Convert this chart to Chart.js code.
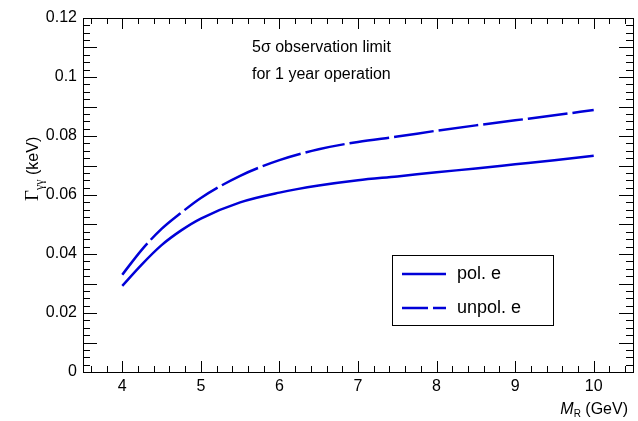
<!DOCTYPE html><html><head><script src="https://cdn.jsdelivr.net/npm/chart.js"></script>
<style>body{margin:0;background:#fff}#w{width:638px;height:421px}</style></head><body><div id="w"><canvas id="c"></canvas></div>
<script>
const massX=[4,4.25,4.5,4.75,5,5.5,6,6.5,7,7.5,8,8.5,9,9.5,10];
const polE=[0.0292,0.0365,0.0430,0.0480,0.0520,0.0575,0.0608,0.0632,0.0650,0.0663,0.0677,0.0690,0.0704,0.0718,0.0733];
const unpolE=[0.0330,0.0415,0.0485,0.0540,0.0590,0.0665,0.0718,0.0755,0.0780,0.0798,0.0818,0.0836,0.0853,0.0870,0.0888];
const xTicks=[4,5,6,7,8,9,10];
const yTicks=[0,0.02,0.04,0.06,0.08,0.1,0.12];
const yLabels=['0','0.02','0.04','0.06','0.08','0.1','0.12'];
const blue='#0000d8';
const deco={id:'deco',afterDraw(ch){const c=ch.ctx,a=ch.chartArea,xs=ch.scales.x,ys=ch.scales.y;
c.save();c.strokeStyle='#000';c.lineWidth=1;c.strokeRect(a.left+.5,a.top+.5,a.right-a.left,a.bottom-a.top);
c.fillStyle='#000';c.font='16px "Liberation Sans",Arial';c.textAlign='center';c.textBaseline='top';
for(let v=3.6;v<10.5;v+=0.2){const p=Math.round(xs.getPixelForValue(v))+.5;const maj=Math.abs(v-Math.round(v))<1e-6;const L=maj?11:6;
c.beginPath();c.moveTo(p,a.bottom);c.lineTo(p,a.bottom-L);c.moveTo(p,a.top);c.lineTo(p,a.top+L);c.stroke();}
xTicks.forEach(v=>c.fillText(String(v),xs.getPixelForValue(v),a.bottom+7));
c.textAlign='right';c.textBaseline='middle';
for(let i=0;i<=48;i++){const v=i*0.0025;const p=Math.round(ys.getPixelForValue(v))+.5;const L=i%4==0?14:7;
c.beginPath();c.moveTo(a.left,p);c.lineTo(a.left+L,p);c.moveTo(a.right,p);c.lineTo(a.right-L,p);c.stroke();}
yTicks.forEach((v,i)=>c.fillText(yLabels[i],a.left-6,ys.getPixelForValue(v)));
c.textAlign='right';c.textBaseline='alphabetic';c.font='16px "Liberation Sans",Arial';
c.fillText('(GeV)',a.right-5,a.bottom+42);const w=c.measureText(' (GeV)').width;
c.font='10px "Liberation Sans",Arial';c.fillText('R',a.right-5-w,a.bottom+45);const w2=c.measureText('R').width;
c.font='italic 16px "Liberation Sans",Arial';c.fillText('M',a.right-5-w-w2,a.bottom+42);
c.translate(38,a.top+5);c.rotate(-Math.PI/2);c.textAlign='left';c.font='19px "Liberation Serif",serif';
let x=-178;c.fillText('Γ',x,0);x+=c.measureText('Γ').width;c.font='12px "Liberation Serif",serif';c.fillText('γγ',x,5);x+=c.measureText('γγ').width;
c.font='16px "Liberation Sans",Arial';c.fillText(' (keV)',x,0);c.restore();
c.save();c.font='16px "Liberation Sans",Arial';c.fillStyle='#000';c.textAlign='left';c.textBaseline='middle';
c.fillText('5σ observation limit',252,48);c.fillText('for 1 year operation',252,75);
c.strokeStyle='#000';c.lineWidth=1;c.strokeRect(392.5,255.5,161,70);
c.lineWidth=2.5;c.strokeStyle=blue;c.beginPath();c.moveTo(402,274);c.lineTo(446,274);c.stroke();
c.setLineDash([26,5]);c.beginPath();c.moveTo(402,308);c.lineTo(446,308);c.stroke();
c.font='18px "Liberation Sans",Arial';c.fillText('pol. e',457,274);c.fillText('unpol. e',457,308);c.restore();}};
new Chart(document.getElementById('c'),{type:'line',data:{datasets:[
{data:massX.map((x,i)=>({x,y:polE[i]})),borderColor:blue,borderWidth:2.5,pointRadius:0,cubicInterpolationMode:'monotone'},
{data:massX.map((x,i)=>({x,y:unpolE[i]})),borderColor:blue,borderWidth:2.5,borderDash:[40,5],pointRadius:0,cubicInterpolationMode:'monotone'}]},
options:{responsive:true,maintainAspectRatio:false,animation:false,layout:{padding:{left:83,right:5,top:18,bottom:49}},
plugins:{legend:{display:false},tooltip:{enabled:false}},
scales:{x:{type:'linear',min:3.5,max:10.5,display:false},y:{min:0,max:0.12,display:false}}},plugins:[deco]});
</script></body></html>
